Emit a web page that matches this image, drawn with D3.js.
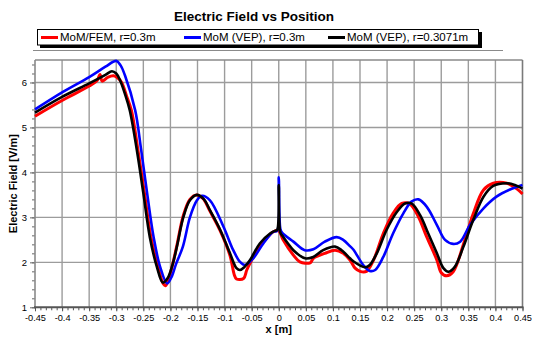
<!DOCTYPE html>
<html>
<head>
<meta charset="utf-8">
<script src="https://cdn.jsdelivr.net/npm/d3@7"></script>
<style>
  body { margin: 0; background: #fff; }
  text { font-family: Arial, "Liberation Sans", sans-serif; }
</style>
</head>
<body>
<script>
// series data: x [m], E [V/m]
const femX = [-0.45,-0.4,-0.35,-0.335,-0.33,-0.326,-0.315,-0.305,-0.297,-0.29,-0.281,-0.272,-0.26,-0.248,-0.236,-0.223,-0.213,-0.209,-0.204,-0.196,-0.188,-0.176,-0.164,-0.152,-0.14,-0.127,-0.108,-0.09,-0.082,-0.078,-0.065,-0.059,-0.05,-0.041,-0.025,-0.01,0,0.008,0.027,0.039,0.058,0.064,0.085,0.104,0.119,0.1315,0.141,0.15,0.162,0.175,0.193,0.211,0.227,0.242,0.258,0.273,0.292,0.3,0.31,0.322,0.341,0.359,0.378,0.396,0.421,0.439,0.45];
const femY = [5.25,5.6,5.92,6.05,6.18,6.03,6.12,6.15,6.1,6.0,5.7,5.38,4.5,3.54,2.56,1.9,1.52,1.48,1.6,1.95,2.38,3.05,3.4,3.5,3.42,3.14,2.7,2.15,1.72,1.63,1.64,1.83,2.05,2.27,2.5,2.68,2.7,2.5,2.16,2.01,1.99,2.09,2.2,2.27,2.2,2.05,1.87,1.8,1.8,2.05,2.64,3.09,3.31,3.3,3.01,2.57,2.05,1.77,1.7,1.79,2.4,3.08,3.61,3.76,3.76,3.64,3.52];

const vepX = [-0.45,-0.4,-0.35,-0.32,-0.3,-0.292,-0.284,-0.265,-0.254,-0.243,-0.231,-0.219,-0.206,-0.197,-0.19,-0.177,-0.164,-0.151,-0.142,-0.127,-0.102,-0.084,-0.0715,-0.0623,-0.047,-0.0285,-0.01,-0.003,0,0.003,0.006,0.027,0.048,0.064,0.085,0.107,0.119,0.1315,0.138,0.156,0.168,0.178,0.193,0.211,0.23,0.245,0.258,0.273,0.292,0.307,0.322,0.335,0.353,0.378,0.402,0.427,0.45];
const vepY = [5.4,5.78,6.12,6.35,6.48,6.38,6.16,5.38,4.5,3.54,2.56,1.9,1.53,1.7,1.95,2.35,3.0,3.38,3.48,3.38,2.79,2.27,2.01,1.94,2.09,2.42,2.68,2.7,3.89,2.74,2.66,2.46,2.27,2.29,2.46,2.56,2.5,2.36,2.28,1.94,1.81,1.83,2.12,2.64,3.09,3.35,3.4,3.24,2.83,2.5,2.41,2.46,2.83,3.2,3.46,3.62,3.72];

const vep2X = [-0.45,-0.4,-0.35,-0.32,-0.308,-0.3,-0.293,-0.284,-0.275,-0.262,-0.25,-0.238,-0.225,-0.214,-0.205,-0.196,-0.188,-0.176,-0.164,-0.151,-0.138,-0.127,-0.108,-0.09,-0.078,-0.0715,-0.063,-0.053,-0.035,-0.016,-0.007,-0.003,0,0.003,0.008,0.017,0.027,0.0485,0.0638,0.082,0.104,0.116,0.1315,0.138,0.159,0.168,0.181,0.199,0.218,0.233,0.245,0.261,0.276,0.292,0.304,0.313,0.325,0.341,0.359,0.378,0.396,0.421,0.436,0.45];
const vep2Y = [5.33,5.68,5.98,6.17,6.25,6.2,6.05,5.75,5.38,4.5,3.54,2.56,1.9,1.55,1.65,1.95,2.35,3.01,3.38,3.5,3.4,3.16,2.72,2.2,1.87,1.83,1.9,2.05,2.42,2.64,2.7,2.72,3.72,2.66,2.57,2.42,2.27,2.09,2.12,2.27,2.35,2.27,2.09,2.02,1.89,1.94,2.2,2.72,3.12,3.31,3.31,3.05,2.64,2.2,1.87,1.79,1.9,2.35,2.94,3.46,3.7,3.76,3.72,3.64];

const seriesNames = ["MoM/FEM, r=0.3m", "MoM (VEP), r=0.3m", "MoM (VEP), r=0.3071m"];
const seriesColors = ["#ff0000", "#0000ff", "#000000"];
const xTicks = d3.range(-9, 10).map(i => +(i * 0.05).toFixed(2));
const yTicks = [1, 2, 3, 4, 5, 6];

const W = 544, H = 338;
const margin = { top: 60, right: 21.5, bottom: 30.7, left: 35 };

const svg = d3.select("body").append("svg")
    .attr("width", W)
    .attr("height", H);

const x = d3.scaleLinear().domain([-0.45, 0.45]).range([margin.left, W - margin.right]);
const y = d3.scaleLinear().domain([1, 6.5]).range([H - margin.bottom, margin.top]);

// title
svg.append("text")
    .attr("x", 254).attr("y", 20.5)
    .attr("text-anchor", "middle")
    .style("font-size", "13.5px").style("font-weight", "bold")
    .text("Electric Field vs Position");

// legend box with shadow
svg.append("rect").attr("x", 40).attr("y", 32).attr("width", 442).attr("height", 16).attr("fill", "#000");
svg.append("rect").attr("x", 37.5).attr("y", 29.5).attr("width", 441).attr("height", 15.5)
    .attr("fill", "#fff").attr("stroke", "#000").attr("stroke-width", 1);
const legX = [41, 184, 328];
seriesNames.forEach((n, i) => {
    svg.append("line")
        .attr("x1", legX[i]).attr("x2", legX[i] + 17)
        .attr("y1", 37.5).attr("y2", 37.5)
        .attr("stroke", seriesColors[i]).attr("stroke-width", 3);
    svg.append("text")
        .attr("x", legX[i] + 19).attr("y", 41.3)
        .style("font-size", "11.5px")
        .text(n);
});

// separator line under legend
svg.append("line").attr("x1", 33).attr("x2", 503).attr("y1", 50.5).attr("y2", 50.5)
    .attr("stroke", "#8a8a8a").attr("stroke-width", 1);

// grid
svg.append("g").selectAll("line").data(xTicks.slice(1, -1)).join("line")
    .attr("x1", d => x(d)).attr("x2", d => x(d))
    .attr("y1", y(6.5)).attr("y2", y(1))
    .attr("stroke", "#9c9c9c").attr("stroke-width", 1.4);
svg.append("g").selectAll("line").data(yTicks.slice(1)).join("line")
    .attr("x1", x(-0.45)).attr("x2", x(0.45))
    .attr("y1", d => y(d)).attr("y2", d => y(d))
    .attr("stroke", "#9c9c9c").attr("stroke-width", 1.4);

// frame top / right
svg.append("line").attr("x1", x(-0.45)).attr("x2", x(0.45)).attr("y1", y(6.5)).attr("y2", y(6.5))
    .attr("stroke", "#8a8a8a").attr("stroke-width", 1.6);
svg.append("line").attr("x1", x(0.45)).attr("x2", x(0.45)).attr("y1", y(6.5)).attr("y2", y(1))
    .attr("stroke", "#7a7a7a").attr("stroke-width", 1.6);

// axes
const fmt = d => String(+d.toFixed(2));
const xMinor = d3.range(-45, 46).map(i => i / 100);
const yMinor = d3.range(5, 33).map(i => i / 5);

const gx = svg.append("g").attr("transform", `translate(0,${y(1)})`);
gx.call(d3.axisBottom(x).tickValues(xMinor).tickSize(3).tickFormat(""));
gx.call(g => g.selectAll("line").attr("stroke", "#555"));
gx.select(".domain").remove();
const gxMaj = svg.append("g").attr("transform", `translate(0,${y(1)})`)
    .call(d3.axisBottom(x).tickValues(xTicks).tickSize(4).tickPadding(3).tickFormat(fmt));
gxMaj.select(".domain").remove();
gxMaj.selectAll("line").attr("stroke", "#555");
gxMaj.selectAll("text").style("font-size", "9.2px").attr("fill", "#000").attr("font-family", "Arial, 'Liberation Sans', sans-serif");

const gy = svg.append("g").attr("transform", `translate(${x(-0.45)},0)`);
gy.call(d3.axisLeft(y).tickValues(yMinor).tickSize(3).tickFormat(""));
gy.select(".domain").remove();
gy.selectAll("line").attr("stroke", "#666");
const gyMaj = svg.append("g").attr("transform", `translate(${x(-0.45)},0)`)
    .call(d3.axisLeft(y).tickValues(yTicks).tickSize(5).tickPadding(3).tickFormat(d3.format("d")));
gyMaj.select(".domain").remove();
gyMaj.selectAll("line").attr("stroke", "#666");
gyMaj.selectAll("text").style("font-size", "9.5px").attr("fill", "#000").attr("font-family", "Arial, 'Liberation Sans', sans-serif");

// axis lines
svg.append("line").attr("x1", x(-0.45)).attr("x2", x(-0.45)).attr("y1", y(6.5)).attr("y2", y(1))
    .attr("stroke", "#8a8a8a").attr("stroke-width", 1.6);
svg.append("line").attr("x1", x(-0.45) - 1).attr("x2", x(0.45) + 1).attr("y1", y(1)).attr("y2", y(1))
    .attr("stroke", "#555").attr("stroke-width", 2);

// axis titles
svg.append("text")
    .attr("x", x(0)).attr("y", 333)
    .attr("text-anchor", "middle")
    .style("font-size", "11px").style("font-weight", "bold")
    .text("x [m]");
svg.append("text")
    .attr("transform", `translate(17,${(y(1) + y(6.5)) / 2}) rotate(-90)`)
    .attr("text-anchor", "middle")
    .style("font-size", "11px").style("font-weight", "bold")
    .text("Electric Field [V/m]");

// curves
const line = d3.line().x(d => x(d[0])).y(d => y(d[1])).curve(d3.curveCatmullRom.alpha(0.5));
const series = [
    d3.zip(femX, femY),
    d3.zip(vepX, vepY),
    d3.zip(vep2X, vep2Y)
];
series.forEach((s, i) => {
    svg.append("path")
        .datum(s)
        .attr("d", line)
        .attr("fill", "none")
        .attr("stroke", seriesColors[i])
        .attr("stroke-width", i === 0 ? 3 : 2.6)
        .attr("stroke-linejoin", "round");
});
</script>
</body>
</html>
